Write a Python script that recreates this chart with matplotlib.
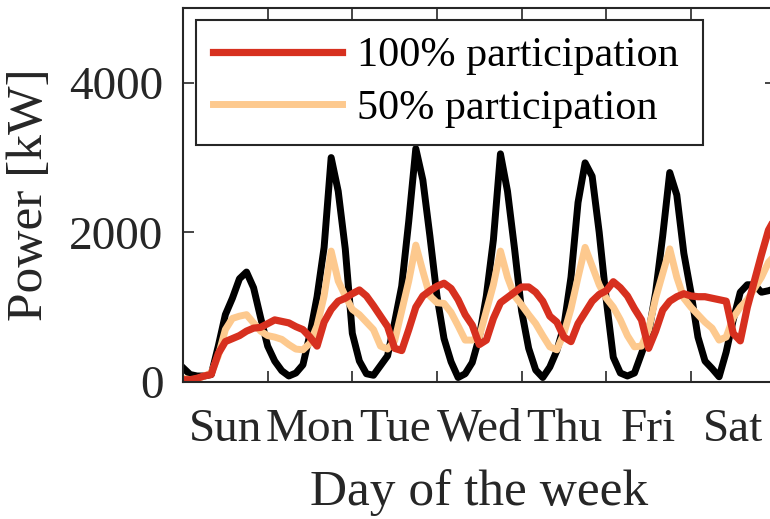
import numpy as np
import matplotlib.pyplot as plt

plt.rcParams['font.family'] = ['Liberation Serif', 'DejaVu Serif']

# hours since Sunday 00:00, sampled every 2 hours
hours = np.arange(0, 169, 2)

# baseline load (no participation)
base_kw = [190, 100, 80, 80, 100, 480, 900, 1120, 1380, 1470, 1260, 860,
           480, 280, 150, 80, 120, 230, 640, 1140, 1800, 3000, 2550, 1780,
           650, 280, 110, 90, 220, 350, 800, 1280, 2150, 3120, 2700, 1950,
           1150, 580, 270, 60, 110, 260, 600, 1150, 1900, 3050, 2550, 1780,
           950, 450, 160, 60, 200, 420, 750, 1400, 2400, 2930, 2750, 2000,
           1100, 330, 120, 80, 120, 380, 650, 1200, 1950, 2800, 2500, 1720,
           1200, 600, 280, 180, 70, 400, 830, 1200, 1300, 1300, 1200, 1220,
           1250]

p50_kw = [50, 30, 40, 80, 120, 350, 700, 850, 880, 900, 790, 680,
          620, 600, 570, 500, 440, 430, 520, 750, 1150, 1750, 1350, 1150,
          970, 900, 800, 700, 480, 440, 550, 950, 1350, 1830, 1480, 1150,
          1060, 1050, 930, 750, 560, 560, 600, 950, 1300, 1750, 1400, 1150,
          1030, 900, 780, 620, 470, 430, 650, 980, 1400, 1800, 1550, 1300,
          1120, 1000, 830, 620, 470, 480, 700, 1120, 1450, 1780, 1400, 1120,
          1000, 900, 800, 720, 560, 600, 860, 1000, 1100, 1250, 1400, 1600,
          1700]

p100_kw = [30, 30, 50, 80, 100, 380, 540, 580, 620, 680, 720, 730,
           780, 830, 810, 790, 740, 700, 600, 480, 800, 970, 1080, 1120,
           1180, 1230, 1150, 1020, 880, 740, 450, 420, 700, 1000, 1150, 1220,
           1280, 1320, 1250, 1100, 900, 760, 500, 560, 850, 1060, 1130, 1200,
           1270, 1270, 1200, 1080, 880, 800, 600, 540, 780, 930, 1080, 1170,
           1220, 1340, 1260, 1150, 980, 830, 450, 680, 960, 1080, 1140, 1180,
           1150, 1140, 1140, 1120, 1100, 1080, 650, 550, 1000, 1350, 1700, 2030,
           2200]

days = ['Sun', 'Mon', 'Tue', 'Wed', 'Thu', 'Fri', 'Sat']

fig = plt.figure(figsize=(7.7, 5.19), dpi=100)
ax = fig.add_axes([0.2377, 0.264, 0.7695, 0.7206])

ax.plot(hours, base_kw, color='black', lw=5, solid_joinstyle='round')
ax.plot(hours, p50_kw, color='#fdc98e', lw=5, solid_joinstyle='round',
        label='50% participation')
ax.plot(hours, p100_kw, color='#d7301f', lw=5.2, solid_joinstyle='round',
        label='100% participation')

ax.set_xlim(0, 168)
ax.set_ylim(0, 5000)

# day boundaries get tick marks, day names sit in between
ax.set_xticks(np.arange(0, 169, 24))
ax.set_xticklabels([])
ax.set_xticks(np.arange(12, 168, 24), minor=True)
ax.set_xticklabels(days, minor=True)
ax.set_yticks([0, 2000, 4000])

ax.tick_params(which='major', direction='in', length=8, width=1.2,
               top=True, right=True, colors='#262626', labelsize=34)
ax.tick_params(axis='y', pad=14)
ax.tick_params(axis='x', which='minor', length=0, pad=19,
               labelsize=34, colors='#262626')
for s in ax.spines.values():
    s.set_color('#262626')
    s.set_linewidth(1.5)

ax.set_xlabel('Day of the week', fontsize=37, color='#262626', labelpad=13)
ax.set_ylabel('Power [kW]', fontsize=37, color='#262626', labelpad=12)

handles, labels = ax.get_legend_handles_labels()
leg = ax.legend(handles[::-1], labels[::-1], loc='upper left',
                bbox_to_anchor=(0.0219, 0.5, 0.8557, 0.468), mode='expand',
                borderaxespad=0, fontsize=30.3, handlelength=3.07,
                handletextpad=0.36, labelspacing=0.33, borderpad=0.4,
                fancybox=False, edgecolor='#262626', framealpha=1)
leg.get_frame().set_linewidth(1.5)

fig.savefig('out.png', dpi=100)
